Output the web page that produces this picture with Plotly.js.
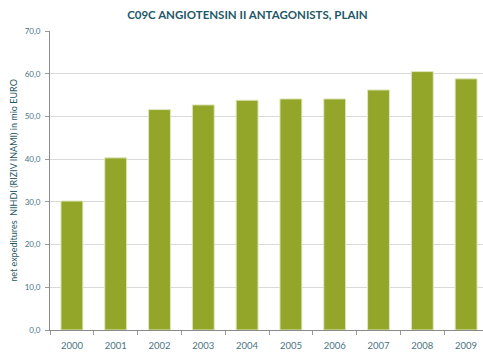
<!DOCTYPE html>
<html>
<head>
<meta charset="utf-8">
<script src="https://cdn.plot.ly/plotly-3.0.1.min.js"></script>
<style>
  html, body { margin: 0; padding: 0; overflow: hidden; background: #fff; }
  #chart { width: 488px; height: 354px; }
</style>
</head>
<body>
<div id="chart"></div>
<script>
// Yearly net expenditure (mio EUR) for ATC group C09C
const years = ['2000', '2001', '2002', '2003', '2004', '2005', '2006', '2007', '2008', '2009'];
const expenditure = [30.2, 40.3, 51.6, 52.7, 53.8, 54.1, 54.1, 56.2, 60.5, 58.8];
const yTicks = [0, 10, 20, 30, 40, 50, 60, 70];

const font = 'Lato, "Open Sans", sans-serif';
const teal = '#1f5868';
const tickTeal = '#4a7482';

const trace = {
  type: 'bar',
  x: years,
  y: expenditure,
  marker: { color: '#93a62a', line: { color: '#dfe7bd', width: 1 } },
  hoverinfo: 'x+y'
};

const layout = {
  width: 488,
  height: 354,
  margin: { l: 50, r: 0, t: 31, b: 24, pad: 0 },
  paper_bgcolor: '#ffffff',
  plot_bgcolor: '#ffffff',
  separators: ',.',
  bargap: 0.5,
  showlegend: false,
  font: { family: font, color: teal },
  title: {
    text: '<b>C09C ANGIOTENSIN II ANTAGONISTS, PLAIN</b>',
    font: { family: font, size: 11.5, color: teal },
    x: 0.507, xanchor: 'center',
    y: 0.958, yanchor: 'middle'
  },
  xaxis: {
    type: 'category',
    tickson: 'boundaries',
    ticks: 'outside',
    ticklen: 4,
    tickcolor: '#9a9a9a',
    showline: true,
    linecolor: '#8a8a8a',
    linewidth: 1,
    showgrid: false,
    ticklabelstandoff: 7,
    tickfont: { family: font, size: 9.5, color: tickTeal },
    automargin: false
  },
  yaxis: {
    range: [0, 70],
    tickvals: yTicks,
    tickformat: '.1f',
    ticks: 'outside',
    ticklen: 4,
    tickcolor: '#9a9a9a',
    showline: true,
    linecolor: '#8a8a8a',
    linewidth: 1,
    gridcolor: '#d9d9d9',
    gridwidth: 1,
    zeroline: false,
    ticklabelstandoff: 3,
    tickfont: { family: font, size: 8, color: tickTeal },
    automargin: false,
    title: {
      text: 'net expeditures  NIHDI (RIZIV INAMI) in mio EURO',
      font: { family: font, size: 9, color: teal },
      standoff: 5
    }
  }
};

Plotly.newPlot('chart', [trace], layout, { displayModeBar: false, staticPlot: true });
</script>
</body>
</html>
